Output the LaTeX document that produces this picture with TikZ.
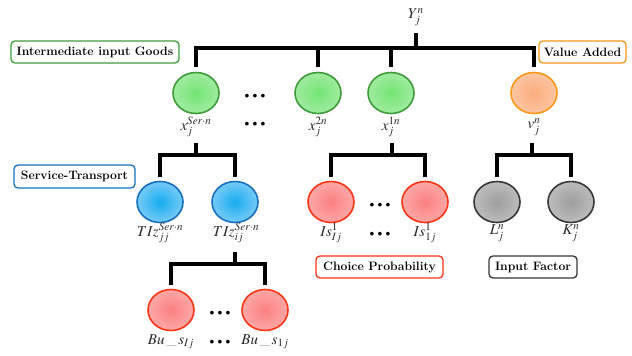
\documentclass[tikz,border=0pt]{standalone}
\usepackage{mathptmx}
\renewcommand{\rmdefault}{lmr}
\usetikzlibrary{shapes.geometric}
\definecolor{gB}{RGB}{62,155,58}\definecolor{gin}{RGB}{115,228,115}\definecolor{gout}{RGB}{205,242,205}
\definecolor{bB}{RGB}{22,112,190}\definecolor{bin}{RGB}{22,172,240}\definecolor{bout}{RGB}{215,232,250}
\definecolor{oB}{RGB}{250,150,22}\definecolor{oin}{RGB}{250,172,125}\definecolor{oout}{RGB}{255,222,198}
\definecolor{kB}{RGB}{55,55,55}\definecolor{kin}{RGB}{158,158,158}\definecolor{kout}{RGB}{218,218,218}
\definecolor{rB}{RGB}{250,52,20}\definecolor{rin}{RGB}{250,128,128}\definecolor{rout}{RGB}{255,208,204}
\definecolor{labtxt}{RGB}{40,40,40}
\pgfdeclareradialshading{gball}{\pgfpoint{0bp}{0bp}}{color(0bp)=(gin); color(50bp)=(gout)}
\pgfdeclareradialshading{bball}{\pgfpoint{0bp}{0bp}}{color(0bp)=(bin); color(50bp)=(bout)}
\pgfdeclareradialshading{oball}{\pgfpoint{0bp}{0bp}}{color(0bp)=(oin); color(50bp)=(oout)}
\pgfdeclareradialshading{kball}{\pgfpoint{0bp}{0bp}}{color(0bp)=(kin); color(50bp)=(kout)}
\pgfdeclareradialshading{rball}{\pgfpoint{0bp}{0bp}}{color(0bp)=(rin); color(50bp)=(rout)}
\begin{document}
\begin{tikzpicture}[x=1pt,y=-1pt,
  ball/.style 2 args={ellipse, minimum width=46pt, minimum height=41pt, inner sep=0pt,
    draw=#1, line width=1.6pt, shading=#2},
  lab/.style={inner sep=0pt, text=labtxt, font=\fontsize{15}{17}\selectfont},
  tag/.style={draw=#1, line width=1.3pt, rounded corners=4pt, fill=white, inner sep=0pt,
    minimum height=22pt, font=\fontsize{12.2}{14}\selectfont\bfseries},
  conn/.style={draw=black, line width=4pt},
  dotsnode/.style={inner sep=0pt, font=\fontsize{9.5}{11}\selectfont}]
\useasboundingbox (0,0) rectangle (632,356);
\newcommand{\threedots}{$\bullet$\hspace{3.2pt}$\bullet$\hspace{3.2pt}$\bullet$}

% top level
\node[lab] (Y) at (416,17) {$Y_j^n$};
\coordinate (ytop) at (416,33);
\coordinate (ybar) at (416,48);

\node[ball={gB}{gball}] (g1) at (196,93) {};
\node[ball={gB}{gball}] (g2) at (318,93) {};
\node[ball={gB}{gball}] (g3) at (391,93) {};
\node[ball={oB}{oball}] (o1) at (534,93) {};

\draw[conn] (ytop) -- (ybar);
\draw[conn, shorten >=4.5pt] (ybar) -| (g1.north);
\draw[conn, shorten >=4.5pt] (ybar) -| (g2.north);
\draw[conn, shorten >=4.5pt] (ybar) -| (g3.north);
\draw[conn, shorten >=4.5pt] (ybar) -| (o1.north);

\node[lab] (lg1) at (196,127) {$x_j^{Ser\cdot n}$};
\node[lab] (lg2) at (318,127) {$x_j^{2n}$};
\node[lab] (lg3) at (391,127) {$x_j^{1n}$};
\node[lab] (lo1) at (534,127) {$v_j^n$};
\node[dotsnode] (d1) at (255,96) {\threedots};
\node[dotsnode] (d2) at (255,124) {\threedots};

\node[tag=gB, minimum width=168pt] (tg) at (95,52) {Intermediate input Goods};
\node[tag=oB, minimum width=87pt] (to) at (582.5,52) {Value Added};

% second level: service transport
\coordinate (s1top) at (196,143);
\coordinate (s1bar) at (196,155);
\node[ball={bB}{bball}] (b1) at (160,202) {};
\node[ball={bB}{bball}] (b2) at (235,202) {};
\draw[conn] (s1top) -- (s1bar);
\draw[conn, shorten >=3.5pt] (s1bar) -| (b1.north);
\draw[conn, shorten >=3.5pt] (s1bar) -| (b2.north);
\node[lab] (lb1) at (160,233) {$TIz_{jj}^{Ser\cdot n}$};
\node[lab] (lb2) at (236,233) {$TIz_{ij}^{Ser\cdot n}$};
\node[tag=bB, minimum width=121pt, minimum height=23pt] (tb) at (74.5,176.5) {Service-Transport};

% second level: choice probability
\coordinate (s3top) at (392,143);
\coordinate (s3bar) at (392,155);
\node[ball={rB}{rball}] (r1) at (331,202) {};
\node[ball={rB}{rball}] (r2) at (425,202) {};
\draw[conn] (s3top) -- (s3bar);
\draw[conn, shorten >=3.5pt] (s3bar) -| (r1.north);
\draw[conn, shorten >=3.5pt] (s3bar) -| (r2.north);
\node[lab] (lr1) at (331,233) {$Is_{Ij}^{1}$};
\node[lab] (lr2) at (425,233) {$Is_{1j}^{1}$};
\node[dotsnode] (d3) at (380,205) {\threedots};
\node[dotsnode] (d4) at (380,234) {\threedots};
\node[tag=rB, minimum width=127pt] (tr) at (379.5,267) {Choice Probability};

% second level: input factor
\coordinate (s4top) at (532,143);
\coordinate (s4bar) at (532,155);
\node[ball={kB}{kball}] (k1) at (497,202) {};
\node[ball={kB}{kball}] (k2) at (571,202) {};
\draw[conn] (s4top) -- (s4bar);
\draw[conn, shorten >=3.5pt] (s4bar) -| (k1.north);
\draw[conn, shorten >=3.5pt] (s4bar) -| (k2.north);
\node[lab] (lk1) at (497,233) {$L_j^n$};
\node[lab] (lk2) at (571,233) {$K_j^n$};
\node[tag=kB, minimum width=88pt] (tk) at (533,267) {Input Factor};

% third level
\coordinate (s5top) at (235,252);
\coordinate (s5bar) at (235,264);
\node[ball={rB}{rball}] (r3) at (171,310) {};
\node[ball={rB}{rball}] (r4) at (265,310) {};
\draw[conn] (s5top) -- (s5bar);
\draw[conn, shorten >=3.5pt] (s5bar) -| (r3.north);
\draw[conn, shorten >=3.5pt] (s5bar) -| (r4.north);
\node[lab] (lr3) at (171,342) {$Bu\,\_\,s_{Ij}$};
\node[lab] (lr4) at (265,342) {$Bu\,\_\,s_{1j}$};
\node[dotsnode] (d5) at (220,313) {\threedots};
\node[dotsnode] (d6) at (220,342) {\threedots};
\end{tikzpicture}
\end{document}
